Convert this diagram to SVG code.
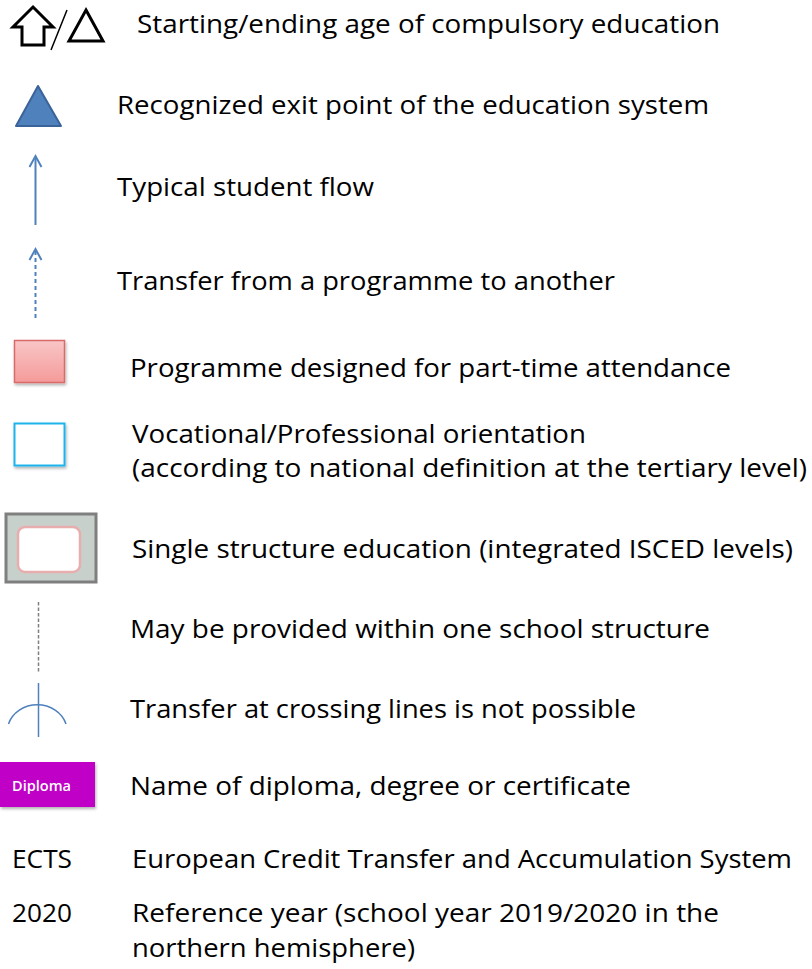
<svg xmlns="http://www.w3.org/2000/svg" width="812" height="969" viewBox="0 0 812 969">
  <defs>
    <style>
      .lbl { font-family: "Open Sans", "Liberation Sans", sans-serif; font-size: 26px; fill: #000; }
      .flow { stroke: #4f81bd; stroke-width: 2; fill: none; }
      .head { stroke: #4f81bd; stroke-width: 2; fill: none; stroke-linejoin: miter; }
    </style>
    <linearGradient id="pinkFill" x1="0" y1="0" x2="0" y2="1">
      <stop offset="0" stop-color="#f9c6c6"/>
      <stop offset="1" stop-color="#f59a9a"/>
    </linearGradient>
    <filter id="shadow" x="-20%" y="-20%" width="140%" height="150%">
      <feDropShadow dx="1" dy="2" stdDeviation="1.5" flood-color="#000" flood-opacity="0.3"/>
    </filter>
  </defs>
  <rect width="812" height="969" fill="#fff"/>

  <!-- compulsory education symbols -->
  <g id="compulsory">
    <path d="M33,7 L53,27 L44,27 L44,45 L22,45 L22,27 L13,27 Z" fill="#fff" stroke="#000" stroke-width="3" stroke-linejoin="miter"/>
    <line x1="51" y1="50" x2="67" y2="10" stroke="#000" stroke-width="1.5"/>
    <path d="M86,10 L103,41 L69,41 Z" fill="#fff" stroke="#000" stroke-width="3" stroke-linejoin="miter"/>
    <text class="lbl" x="137" y="33" textLength="583" lengthAdjust="spacingAndGlyphs">Starting/ending age of compulsory education</text>
  </g>

  <!-- exit point -->
  <g id="exit-point">
    <path d="M38,86 L61,126 L16,126 Z" fill="#4f81bd" stroke="#3a6399" stroke-width="2" stroke-linejoin="round"/>
    <text class="lbl" x="117" y="114" textLength="592" lengthAdjust="spacingAndGlyphs">Recognized exit point of the education system</text>
  </g>

  <!-- typical student flow -->
  <g id="student-flow">
    <line class="flow" x1="35.5" y1="225" x2="35.5" y2="157"/>
    <polyline class="head" points="29.5,167 35.5,156 41.5,167"/>
    <text class="lbl" x="117" y="196" textLength="257" lengthAdjust="spacingAndGlyphs">Typical student flow</text>
  </g>

  <!-- transfer between programmes -->
  <g id="transfer">
    <line class="flow" x1="35.5" y1="318" x2="35.5" y2="250" stroke-dasharray="4,3"/>
    <polyline class="head" points="29.5,260 35.5,249 41.5,260"/>
    <text class="lbl" x="117" y="290" textLength="498" lengthAdjust="spacingAndGlyphs">Transfer from a programme to another</text>
  </g>

  <!-- part-time attendance -->
  <g id="part-time">
    <rect x="14.5" y="340.5" width="50" height="42" fill="url(#pinkFill)" stroke="#d96b6b" stroke-width="1.5" filter="url(#shadow)"/>
    <text class="lbl" x="130" y="377" textLength="601" lengthAdjust="spacingAndGlyphs">Programme designed for part-time attendance</text>
  </g>

  <!-- vocational orientation -->
  <g id="vocational">
    <rect x="14.5" y="423.5" width="50" height="42" fill="#fff" stroke="#1eb4ec" stroke-width="2" filter="url(#shadow)"/>
    <text class="lbl" x="132" y="443" textLength="454" lengthAdjust="spacingAndGlyphs">Vocational/Professional orientation</text>
    <text class="lbl" x="132" y="477" textLength="675" lengthAdjust="spacingAndGlyphs">(according to national definition at the tertiary level)</text>
  </g>

  <!-- single structure education -->
  <g id="single-structure">
    <rect x="6" y="514" width="90" height="68" fill="#c8d0cb" stroke="#7f7f7f" stroke-width="3"/>
    <rect x="18" y="527" width="62" height="45" rx="7" fill="#fff" stroke="#e8aeae" stroke-width="2.5"/>
    <text class="lbl" x="132" y="558" textLength="661" lengthAdjust="spacingAndGlyphs">Single structure education (integrated ISCED levels)</text>
  </g>

  <!-- one school structure -->
  <g id="one-school">
    <line x1="38.5" y1="602" x2="38.5" y2="673" stroke="#7f7f7f" stroke-width="1.5" stroke-dasharray="3.5,2"/>
    <text class="lbl" x="130" y="638" textLength="580" lengthAdjust="spacingAndGlyphs">May be provided within one school structure</text>
  </g>

  <!-- crossing lines -->
  <g id="no-crossing">
    <line x1="38.5" y1="683" x2="38.5" y2="737" stroke="#4f81bd" stroke-width="1.5"/>
    <path d="M8.5,724 A30,27 0 0 1 66,724" fill="none" stroke="#4f81bd" stroke-width="1.5"/>
    <text class="lbl" x="130" y="718" textLength="506" lengthAdjust="spacingAndGlyphs">Transfer at crossing lines is not possible</text>
  </g>

  <!-- diploma -->
  <g id="diploma">
    <rect x="0" y="762" width="95" height="45" fill="#c000c6" filter="url(#shadow)"/>
    <text x="41.5" y="791" text-anchor="middle" font-family="Open Sans, Liberation Sans, sans-serif" font-size="15" font-weight="600" fill="#fff" textLength="59" lengthAdjust="spacingAndGlyphs">Diploma</text>
    <text class="lbl" x="130" y="795" textLength="501" lengthAdjust="spacingAndGlyphs">Name of diploma, degree or certificate</text>
  </g>

  <!-- ECTS -->
  <g id="ects">
    <text class="lbl" x="12" y="868" textLength="60" lengthAdjust="spacingAndGlyphs">ECTS</text>
    <text class="lbl" x="132" y="868" textLength="660" lengthAdjust="spacingAndGlyphs">European Credit Transfer and Accumulation System</text>
  </g>

  <!-- reference year -->
  <g id="reference-year">
    <text class="lbl" x="12" y="922" textLength="60" lengthAdjust="spacingAndGlyphs">2020</text>
    <text class="lbl" x="132" y="922" textLength="587" lengthAdjust="spacingAndGlyphs">Reference year (school year 2019/2020 in the</text>
    <text class="lbl" x="132" y="957" textLength="283" lengthAdjust="spacingAndGlyphs">northern hemisphere)</text>
  </g>
</svg>
